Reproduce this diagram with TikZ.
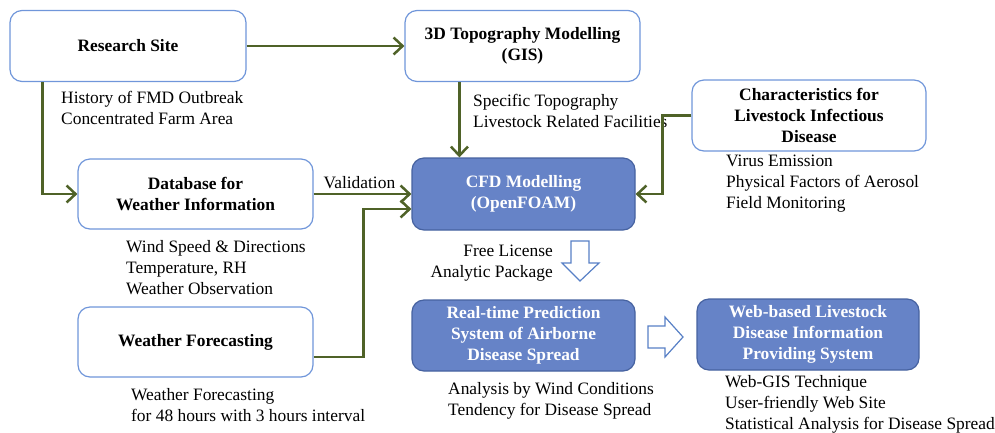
\documentclass[tikz,border=0pt]{standalone}
\usepackage{fontspec}
\setmainfont{Liberation Serif}
\usetikzlibrary{arrows.meta}

\definecolor{boxline}{RGB}{112,150,218}
\definecolor{modelfill}{RGB}{102,131,199}
\definecolor{modelline}{RGB}{70,98,160}
\definecolor{flowgreen}{RGB}{79,98,40}
\definecolor{hollowline}{RGB}{88,128,198}

\newcommand{\diagfont}{\fontsize{17.4}{21}\selectfont}

\tikzstyle{stage} = [draw=boxline, line width=1.2pt, rounded corners=12pt, fill=white, align=center, font=\diagfont\bfseries]
\tikzstyle{model} = [draw=modelline, line width=1.2pt, rounded corners=12pt, fill=modelfill, text=white, align=center, font=\diagfont\bfseries]
\tikzstyle{note} = [align=left, inner sep=0pt, font=\diagfont]
\tikzstyle{flow} = [draw=flowgreen, line width=2.5pt, -{Straight Barb[length=9pt,width=17pt]}]
\tikzstyle{hollow} = [draw=hollowline, line width=1.2pt, fill=white, line join=miter]

\begin{document}
\begin{tikzpicture}[%
        x=1pt, y=-1pt
      ]
      \useasboundingbox (0,0) rectangle (995,432);

      % boxes
      \node[stage, minimum width=236pt, minimum height=71pt] (site) at (128,46) {Research Site};
      \node[stage, minimum width=235pt, minimum height=71pt] (topo) at (522.5,46) {3D Topography Modelling\\(GIS)};
      \node[stage, minimum width=234pt, minimum height=71pt] (virus) at (809,115.5) {Characteristics for\\Livestock Infectious\\Disease};
      \node[stage, minimum width=235pt, minimum height=70pt] (weatherdb) at (195.5,194) {Database for\\Weather Information};
      \node[model, minimum width=223pt, minimum height=72pt] (cfd) at (523.5,194) {CFD Modelling\\(OpenFOAM)};
      \node[stage, minimum width=235pt, minimum height=70pt] (forecast) at (195.5,342) {Weather Forecasting};
      \node[model, minimum width=223pt, minimum height=71pt] (predict) at (523.5,335.5) {Real-time Prediction\\System of Airborne\\Disease Spread};
      \node[model, minimum width=222pt, minimum height=71pt] (web) at (808,334.5) {Web-based Livestock\\Disease Information\\Providing System};

      % notes
      \node[note, anchor=north west] (sitenote) at (61,91) {History of FMD Outbreak\\Concentrated Farm Area};
      \node[note, anchor=north west] (toponote) at (473,94) {Specific Topography\\Livestock Related Facilities};
      \node[note, anchor=north west] (virusnote) at (726,155) {Virus Emission\\Physical Factors of Aerosol\\Field Monitoring};
      \node[note, anchor=north west] (weatherdbnote) at (126,240) {Wind Speed \& Directions\\Temperature, RH\\Weather Observation};
      \node[note, anchor=north east, align=right] (cfdnote) at (553,245) {Free License\\Analytic Package};
      \node[note, anchor=north west] (forecastnote) at (131,388) {Weather Forecasting\\for 48 hours with 3 hours interval};
      \node[note, anchor=north west] (predictnote) at (448,382) {Analysis by Wind Conditions\\Tendency for Disease Spread};
      \node[note, anchor=north west] (webnote) at (725,375) {Web-GIS Technique\\User-friendly Web Site\\Statistical Analysis for Disease Spread};

      % connectors
      \draw[flow] (site) -- (topo);
      \draw[flow] ([xshift=33pt]site.south west) |- (weatherdb.west);
      \draw[flow] ([xshift=55pt]topo.south west) -- ([xshift=55pt]topo.south west |- cfd.north);
      \draw[flow] (weatherdb.east) -- (weatherdb.east -| cfd.west)
        node[note, pos=0.09, anchor=base west, yshift=6pt] (valid) {Validation};
      \draw[flow] ([yshift=-15pt]forecast.east) -- ++(50,0) |- ([yshift=-15pt]cfd.west);
      \draw[flow] (virus.west) -- ++(-29,0) |- (cfd.east);

      % hollow arrows
      \draw[hollow] (571,241) -- (589,241) -- (589,263) -- (599,263) -- (580,281) -- (562,263) -- (571,263) -- cycle;
      \draw[hollow] (648,326) -- (665,326) -- (665,317) -- (683,337) -- (665,357) -- (665,348) -- (648,348) -- cycle;
    \end{tikzpicture}
\end{document}
